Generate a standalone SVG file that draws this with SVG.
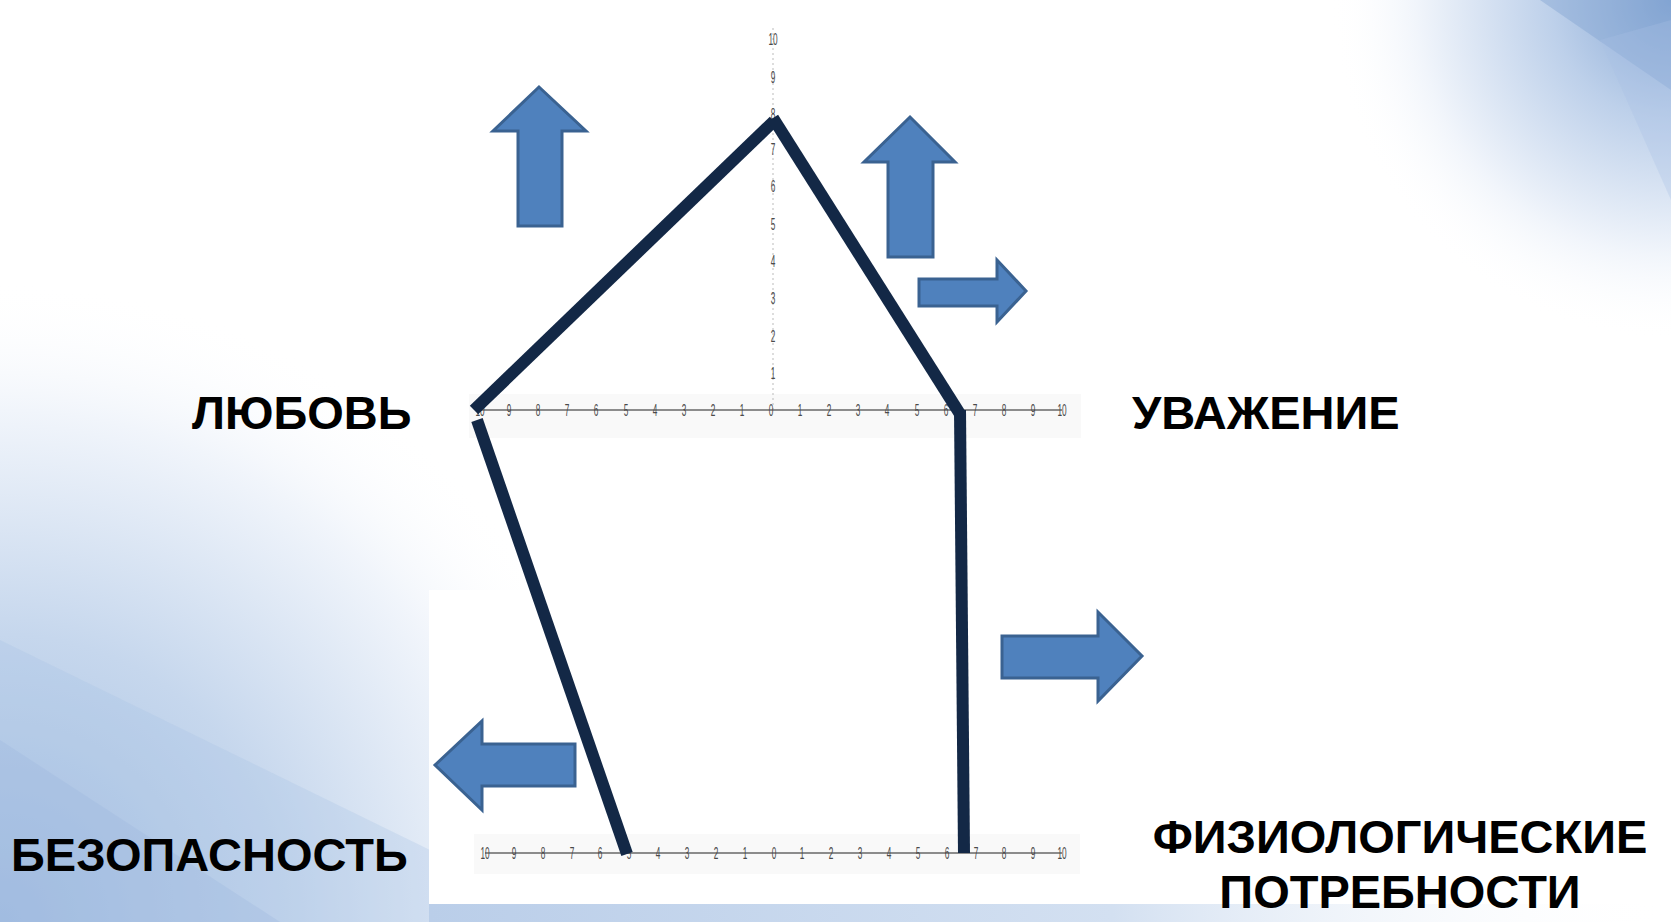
<svg xmlns="http://www.w3.org/2000/svg" width="1671" height="922" viewBox="0 0 1671 922">
<defs>
<radialGradient id="bgLL" cx="0" cy="922" r="640" gradientUnits="userSpaceOnUse">
<stop offset="0" stop-color="#A2BDE0"/>
<stop offset="0.45" stop-color="#C6D7ED"/>
<stop offset="0.8" stop-color="#F1F5FB"/>
<stop offset="1" stop-color="#FFFFFF" stop-opacity="0"/>
</radialGradient>
<radialGradient id="bgUR" cx="1671" cy="0" r="340" gradientUnits="userSpaceOnUse">
<stop offset="0" stop-color="#86A7D4"/>
<stop offset="0.35" stop-color="#BDD0EA"/>
<stop offset="0.75" stop-color="#F1F5FB"/>
<stop offset="1" stop-color="#FFFFFF" stop-opacity="0"/>
</radialGradient>
<linearGradient id="bottomStrip" x1="0" y1="0" x2="1" y2="0">
<stop offset="0" stop-color="#BACEE9"/>
<stop offset="0.55" stop-color="#D3E0F1"/>
<stop offset="1" stop-color="#FFFFFF" stop-opacity="0"/>
</linearGradient>
<style>
.lbl{font-family:"Liberation Sans",Arial,sans-serif;font-weight:bold;font-size:47px;fill:#000}
.arrow{fill:#4F81BD;stroke:#3A6291;stroke-width:3;stroke-linejoin:miter}
.edge{fill:none;stroke:#132846;stroke-width:12;stroke-linecap:butt;stroke-linejoin:miter}
.axis{stroke:#8C8C8C;stroke-width:2;fill:none}
.num{font-family:"Liberation Sans",Arial,sans-serif;font-size:15px;fill:#4A4A4A;text-anchor:middle}
</style>
</defs>

<g id="background">
<rect x="0" y="0" width="1671" height="922" fill="#FFFFFF"/>
<rect x="0" y="0" width="1671" height="922" fill="url(#bgLL)"/>
<rect x="0" y="0" width="1671" height="922" fill="url(#bgUR)"/>
<polygon points="0,640 430,850 430,922 0,922" fill="#A9C2E3" opacity="0.3"/>
<polygon points="0,740 280,922 0,922" fill="#9AB7DD" opacity="0.3"/>
<polygon points="1540,0 1671,0 1671,90" fill="#7D9FD0" opacity="0.4"/>
<polygon points="1600,40 1671,20 1671,200" fill="#A9C1E3" opacity="0.3"/>
<rect x="429" y="590" width="670" height="314" fill="#FFFFFF"/>
<rect x="429" y="904" width="1242" height="18" fill="url(#bottomStrip)"/>
</g>

<g id="axes">
<rect x="469" y="394" width="612" height="44" fill="#F4F4F4" opacity="0.5"/>
<rect x="474" y="834" width="606" height="40" fill="#F4F4F4" opacity="0.5"/>
<line x1="773" y1="28" x2="773" y2="410" stroke="#BBBBBB" stroke-width="1" stroke-dasharray="2,3"/>
<line class="axis" x1="480" y1="410" x2="1062" y2="410"/>
<line class="axis" x1="485" y1="853" x2="1062" y2="853"/>
<g>
<text class="num" transform="translate(773,45) scale(0.55,1.15)">10</text>
<text class="num" transform="translate(773,83) scale(0.55,1.15)">9</text>
<text class="num" transform="translate(773,120) scale(0.55,1.15)">8</text>
<text class="num" transform="translate(773,155) scale(0.55,1.15)">7</text>
<text class="num" transform="translate(773,192) scale(0.55,1.15)">6</text>
<text class="num" transform="translate(773,230) scale(0.55,1.15)">5</text>
<text class="num" transform="translate(773,267) scale(0.55,1.15)">4</text>
<text class="num" transform="translate(773,304) scale(0.55,1.15)">3</text>
<text class="num" transform="translate(773,342) scale(0.55,1.15)">2</text>
<text class="num" transform="translate(773,379) scale(0.55,1.15)">1</text>
</g>
<g id="topTicks">
<text class="num" transform="translate(480,416) scale(0.55,1.15)">10</text>
<text class="num" transform="translate(509,416) scale(0.55,1.15)">9</text>
<text class="num" transform="translate(538,416) scale(0.55,1.15)">8</text>
<text class="num" transform="translate(567,416) scale(0.55,1.15)">7</text>
<text class="num" transform="translate(596,416) scale(0.55,1.15)">6</text>
<text class="num" transform="translate(626,416) scale(0.55,1.15)">5</text>
<text class="num" transform="translate(655,416) scale(0.55,1.15)">4</text>
<text class="num" transform="translate(684,416) scale(0.55,1.15)">3</text>
<text class="num" transform="translate(713,416) scale(0.55,1.15)">2</text>
<text class="num" transform="translate(742,416) scale(0.55,1.15)">1</text>
<text class="num" transform="translate(771,416) scale(0.55,1.15)">0</text>
<text class="num" transform="translate(800,416) scale(0.55,1.15)">1</text>
<text class="num" transform="translate(829,416) scale(0.55,1.15)">2</text>
<text class="num" transform="translate(858,416) scale(0.55,1.15)">3</text>
<text class="num" transform="translate(887,416) scale(0.55,1.15)">4</text>
<text class="num" transform="translate(917,416) scale(0.55,1.15)">5</text>
<text class="num" transform="translate(946,416) scale(0.55,1.15)">6</text>
<text class="num" transform="translate(975,416) scale(0.55,1.15)">7</text>
<text class="num" transform="translate(1004,416) scale(0.55,1.15)">8</text>
<text class="num" transform="translate(1033,416) scale(0.55,1.15)">9</text>
<text class="num" transform="translate(1062,416) scale(0.55,1.15)">10</text>
</g>
<g id="bottomTicks">
<text class="num" transform="translate(485,859) scale(0.55,1.15)">10</text>
<text class="num" transform="translate(514,859) scale(0.55,1.15)">9</text>
<text class="num" transform="translate(543,859) scale(0.55,1.15)">8</text>
<text class="num" transform="translate(572,859) scale(0.55,1.15)">7</text>
<text class="num" transform="translate(600,859) scale(0.55,1.15)">6</text>
<text class="num" transform="translate(629,859) scale(0.55,1.15)">5</text>
<text class="num" transform="translate(658,859) scale(0.55,1.15)">4</text>
<text class="num" transform="translate(687,859) scale(0.55,1.15)">3</text>
<text class="num" transform="translate(716,859) scale(0.55,1.15)">2</text>
<text class="num" transform="translate(745,859) scale(0.55,1.15)">1</text>
<text class="num" transform="translate(774,859) scale(0.55,1.15)">0</text>
<text class="num" transform="translate(802,859) scale(0.55,1.15)">1</text>
<text class="num" transform="translate(831,859) scale(0.55,1.15)">2</text>
<text class="num" transform="translate(860,859) scale(0.55,1.15)">3</text>
<text class="num" transform="translate(889,859) scale(0.55,1.15)">4</text>
<text class="num" transform="translate(918,859) scale(0.55,1.15)">5</text>
<text class="num" transform="translate(947,859) scale(0.55,1.15)">6</text>
<text class="num" transform="translate(976,859) scale(0.55,1.15)">7</text>
<text class="num" transform="translate(1004,859) scale(0.55,1.15)">8</text>
<text class="num" transform="translate(1033,859) scale(0.55,1.15)">9</text>
<text class="num" transform="translate(1062,859) scale(0.55,1.15)">10</text>
</g>
</g>

<g id="connectors">
<path class="edge" d="M474,410 L774,121"/>
<path class="edge" d="M773,118 L960,414"/>
<path class="edge" d="M960,410 L964,853"/>
<path class="edge" d="M477,420 L627,854"/>
</g>

<g id="arrow-up-left"><polygon class="arrow" points="539,87 586,131 562,131 562,226 518,226 518,131 493,131"/></g>
<g id="arrow-up-right"><polygon class="arrow" points="910,117 955,162 933,162 933,257 888,257 888,162 864,162"/></g>
<g id="arrow-right-small"><polygon class="arrow" points="919,279 997,279 997,260 1026,291 997,322 997,306 919,306"/></g>
<g id="arrow-right-large"><polygon class="arrow" points="1002,636 1098,636 1098,612 1142,656 1098,701 1098,678 1002,678"/></g>
<g id="arrow-left"><polygon class="arrow" points="435,765 482,721 482,744 575,744 575,786 482,786 482,810"/></g>

<g id="label-love"><text class="lbl" x="192" y="429">ЛЮБОВЬ</text></g>
<g id="label-respect"><text class="lbl" x="1132" y="429">УВАЖЕНИЕ</text></g>
<g id="label-safety"><text class="lbl" x="11" y="871">БЕЗОПАСНОСТЬ</text></g>
<g id="label-physio">
<text class="lbl" x="1400" y="853" text-anchor="middle">ФИЗИОЛОГИЧЕСКИЕ</text>
<text class="lbl" x="1400" y="908" text-anchor="middle">ПОТРЕБНОСТИ</text>
</g>
</svg>
